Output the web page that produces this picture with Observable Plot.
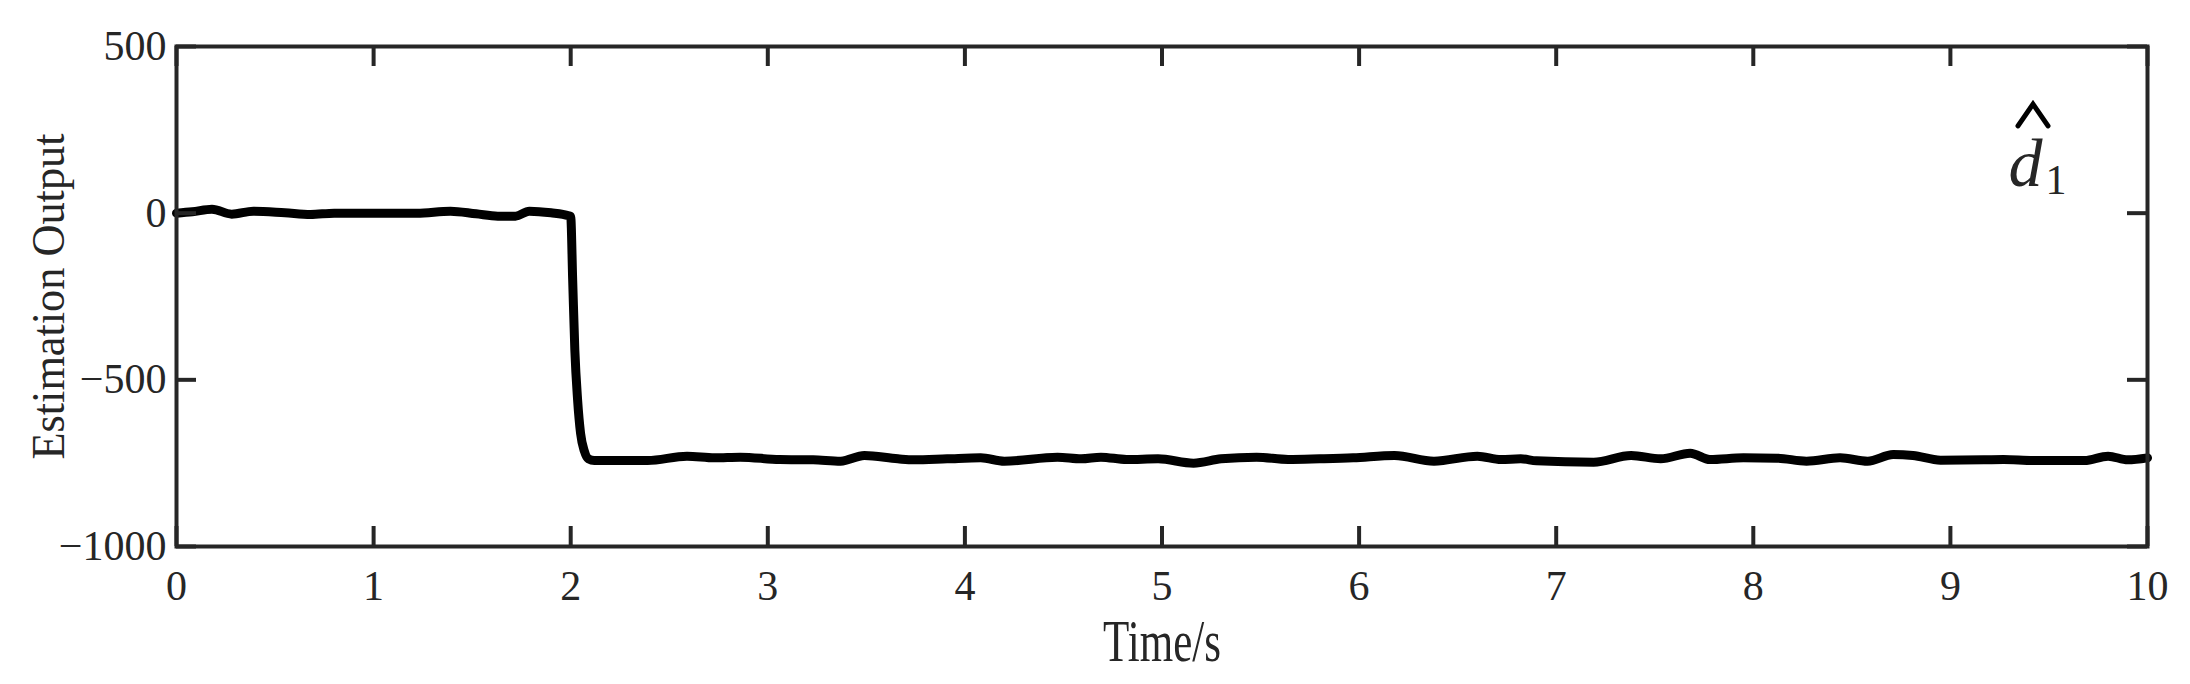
<!DOCTYPE html>
<html>
<head>
<meta charset="utf-8">
<script src="https://cdn.jsdelivr.net/npm/d3@7"></script>
<script src="https://cdn.jsdelivr.net/npm/@observablehq/plot@0.6"></script>
<style>
  html, body { margin: 0; padding: 0; background: #fff; }
  #chart { width: 2190px; height: 684px; }
</style>
</head>
<body>
<div id="chart"></div>
<script>
// ---- data ----
const time = [0, 0.08, 0.18, 0.28, 0.39, 0.55, 0.68, 0.80, 1.0, 1.22, 1.39, 1.52, 1.63, 1.72, 1.79, 1.9, 1.99,
  2.00, 2.01, 2.021, 2.035, 2.05, 2.07, 2.09, 2.12,
  2.39, 2.59, 2.73, 2.86, 3.06, 3.23, 3.37, 3.49, 3.66, 3.74, 3.91, 4.08, 4.20, 4.47, 4.59, 4.69, 4.82, 4.98,
  5.16, 5.30, 5.48, 5.64, 5.80, 5.97, 6.18, 6.38, 6.60, 6.72, 6.82, 6.90, 7.19, 7.38, 7.53, 7.68, 7.78, 7.95,
  8.12, 8.27, 8.44, 8.58, 8.71, 8.81, 8.95, 9.17, 9.27, 9.42, 9.68, 9.80, 9.90, 10.0];
const estimate = [0, 4, 12, -3, 6, 1, -4, 0, 0, 0, 6, -2, -9, -9, 6, 1, -8,
  -10, -200, -411, -560, -660, -715, -737, -742,
  -742, -729, -734, -732, -739, -740, -744, -727, -737, -740, -737, -734, -744, -732, -737, -732, -739, -737,
  -750, -737, -732, -739, -737, -734, -727, -744, -729, -739, -737, -743, -747, -727, -737, -720, -739, -734,
  -735, -744, -734, -744, -724, -727, -741, -740, -739, -742, -742, -729, -740, -734];
const xTicks = [0, 1, 2, 3, 4, 5, 6, 7, 8, 9, 10];
const yTicks = [500, 0, -500, -1000];
const xLabel = "Time/s";
const yLabel = "Estimation Output";
const seriesLabel = "d";
const seriesSub = "1";

const data = time.map((t, i) => ({t, v: estimate[i]}));

const W = 2190, H = 684;
const mL = 176, mR = 43, mT = 46, mB = 138;
const plotW = W - mL - mR, plotH = H - mT - mB;
const tickLen = 20;
const ink = "#262626";
const fmt = d => d < 0 ? "\u2212" + Math.abs(d) : String(d);

// circumflex ("hat") accent drawn as a symbol
const hat = {
  draw(context, size) {
    const r = Math.sqrt(size / Math.PI);
    context.moveTo(-r, 0.73 * r);
    context.lineTo(0, -0.73 * r);
    context.lineTo(r, 0.73 * r);
  }
};

const chart = Plot.plot({
  width: W, height: H,
  marginLeft: mL, marginRight: mR, marginTop: mT, marginBottom: mB,
  style: {fontFamily: "'Liberation Serif', 'Times New Roman', serif", color: ink, background: "#fff", overflow: "visible"},
  x: {domain: [0, 10], axis: null},
  y: {domain: [-1000, 500], axis: null},
  marks: [
    Plot.line(data, {x: "t", y: "v", stroke: "#000", strokeWidth: 9, curve: "monotone-x", strokeLinejoin: "round", strokeLinecap: "round"}),
    Plot.frame({stroke: ink, strokeWidth: 4}),
    Plot.tickX(xTicks, {x: d => d, stroke: ink, strokeWidth: 4, insetTop: plotH - tickLen}),
    Plot.tickX(xTicks, {x: d => d, stroke: ink, strokeWidth: 4, insetBottom: plotH - tickLen}),
    Plot.tickY(yTicks, {y: d => d, stroke: ink, strokeWidth: 4, insetRight: plotW - tickLen}),
    Plot.tickY(yTicks, {y: d => d, stroke: ink, strokeWidth: 4, insetLeft: plotW - tickLen}),
    Plot.axisX(xTicks, {tickSize: 0, tickPadding: 24, fontSize: 42, tickFormat: fmt, label: null, fill: ink}),
    Plot.axisY(yTicks, {tickSize: 0, tickPadding: 10, fontSize: 42, tickFormat: fmt, label: null, fill: ink}),
    Plot.text([xLabel], {frameAnchor: "bottom", lineAnchor: "bottom", textAnchor: "middle", dy: 114, fontSize: 60, fill: ink, text: d => d}),
    Plot.text([yLabel], {frameAnchor: "left", lineAnchor: "bottom", textAnchor: "middle", rotate: -90, dx: -113, fontSize: 47, fill: ink, text: d => d}),
    Plot.dot([seriesLabel], {frameAnchor: "top-right", dx: -114.5, dy: 68.5, symbol: hat, r: 15, fill: "none", stroke: "#000", strokeWidth: 5, strokeLinecap: "round", strokeLinejoin: "miter"}),
    Plot.text([seriesLabel], {frameAnchor: "top-right", lineAnchor: "bottom", textAnchor: "start", dx: -139, dy: 139, fontSize: 68, fontStyle: "italic", fill: ink, text: d => d}),
    Plot.text([seriesSub], {frameAnchor: "top-right", lineAnchor: "bottom", textAnchor: "start", dx: -102, dy: 147, fontSize: 42, fill: ink, text: d => d})
  ]
});

// horizontally condensed label glyphs as in the original export
chart.querySelectorAll("text").forEach(el => {
  if (el.textContent === xLabel) { el.setAttribute("textLength", 118); el.setAttribute("lengthAdjust", "spacingAndGlyphs"); }
  if (el.textContent === yLabel) { el.setAttribute("textLength", 326); el.setAttribute("lengthAdjust", "spacingAndGlyphs"); }
});

document.getElementById("chart").appendChild(chart);
</script>
</body>
</html>
